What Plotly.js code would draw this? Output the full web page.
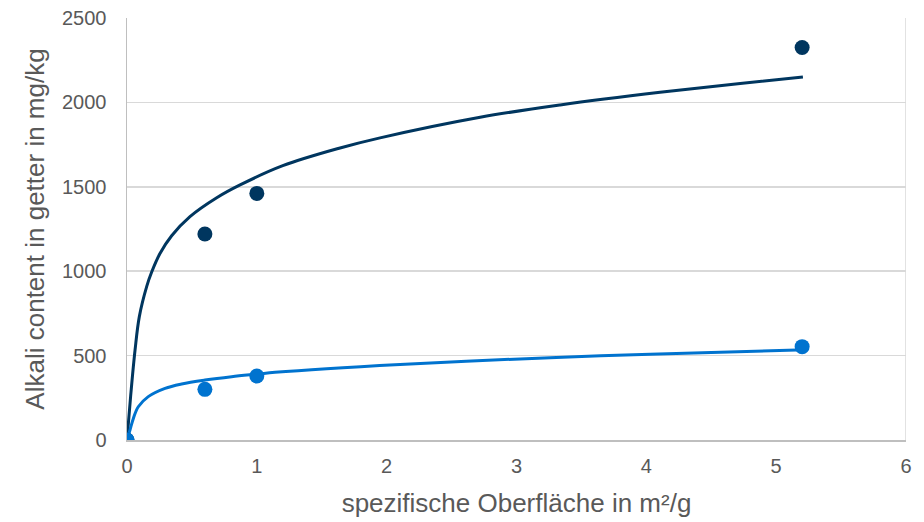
<!DOCTYPE html>
<html>
<head>
<meta charset="utf-8">
<script src="https://cdn.plot.ly/plotly-3.0.1.min.js"></script>
<style>html,body{margin:0;padding:0;background:#fff;}#chart{width:924px;height:522px;}</style>
</head>
<body>
<div id="chart"></div>
<script>
// Measured data points
const xPoints = [0, 0.6, 1, 5.2];
const darkValues = [0, 1220, 1461, 2325];
const lightValues = [0, 300, 379, 553];

// Trendlines
const darkTrendX = [0, 0.028, 0.062, 0.095, 0.152, 0.19, 0.254, 0.344, 0.485, 0.691, 0.871, 1.2, 1.641, 1.949, 2.72, 3.336, 4.106, 4.723, 5.206];
const darkTrendY = [0, 260, 533, 731, 910, 995, 1105, 1210, 1323, 1435, 1511, 1625, 1730, 1790, 1912, 1985, 2060, 2112, 2151];
const lightTrendX = [0, 0.023, 0.049, 0.087, 0.164, 0.293, 0.421, 0.601, 0.806, 1.012, 1.14, 2.103, 3.259, 4.029, 5.16];
const lightTrendY = [0, 59, 128, 197, 257, 306, 332, 355, 375, 391, 401, 448, 488, 508, 533];

const xTicks = [0, 1, 2, 3, 4, 5, 6];
const yTicks = [0, 500, 1000, 1500, 2000, 2500];

const darkColor = '#00365F';
const lightColor = '#0073CF';

const traces = [
  {x: darkTrendX, y: darkTrendY, mode: 'lines', line: {color: darkColor, width: 3, shape: 'spline', smoothing: 1}, hoverinfo: 'skip'},
  {x: lightTrendX, y: lightTrendY, mode: 'lines', line: {color: lightColor, width: 3, shape: 'spline', smoothing: 1}, hoverinfo: 'skip'},
  {x: xPoints, y: darkValues, mode: 'markers', marker: {color: darkColor, size: 15}},
  {x: xPoints, y: lightValues, mode: 'markers', marker: {color: lightColor, size: 15}}
];

const fontFam = 'Liberation Sans, Arial, sans-serif';
const layout = {
  width: 924, height: 522,
  margin: {l: 127, r: 18, t: 18, b: 82},
  paper_bgcolor: '#fff', plot_bgcolor: '#fff',
  showlegend: false,
  font: {family: fontFam, color: '#595959', size: 20},
  xaxis: {
    range: [0, 6], tickvals: xTicks, ticktext: xTicks.map(String),
    showgrid: false, zeroline: false,
    showline: true, linecolor: '#BFBFBF', linewidth: 1.5,
    ticks: '', ticklabelstandoff: 7,
    tickfont: {size: 20, color: '#595959'},
    title: {text: 'spezifische Oberfläche in m²/g', font: {size: 26, color: '#595959'}, standoff: 18}
  },
  yaxis: {
    range: [0, 2500], tickvals: yTicks, ticktext: yTicks.map(String),
    showgrid: true, gridcolor: '#D9D9D9', gridwidth: 1.5, zeroline: false,
    showline: true, linecolor: '#BFBFBF', linewidth: 1.5,
    ticks: '', ticklabelstandoff: 15,
    tickfont: {size: 20, color: '#595959'},
    title: {text: 'Alkali content in getter in mg/kg', font: {size: 26, color: '#595959'}, standoff: 10}
  },
  shapes: [
    {type: 'line', xref: 'x', yref: 'paper', x0: 6, x1: 6, y0: 0, y1: 1, line: {color: '#D9D9D9', width: 1.5}, layer: 'below'}
  ]
};

Plotly.newPlot('chart', traces, layout, {displayModeBar: false, staticPlot: true});
</script>
</body>
</html>
